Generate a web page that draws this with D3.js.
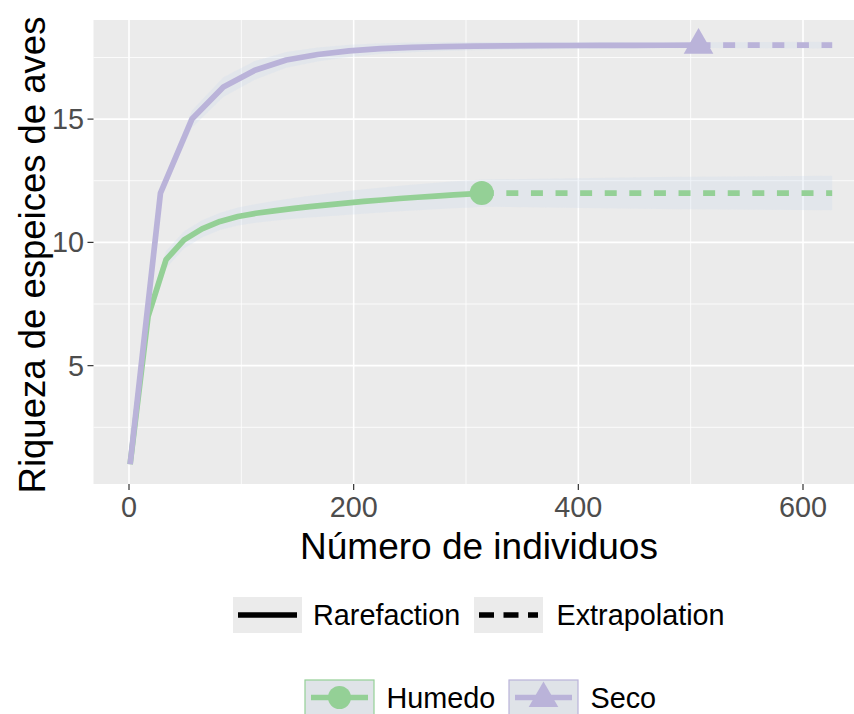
<!DOCTYPE html>
<html>
<head>
    <meta charset="utf-8">
    <style type="text/css">
        body { margin: 0; background: #fff; }
        text { font-family: "Liberation Sans", Arial, Helvetica, sans-serif; }
    </style>
</head>
<body>
    <div id="canvas"></div>

    <script src="https://cdn.jsdelivr.net/npm/d3@7"></script>
    <script type="text/javascript">
        // Humedo: rarefaction knots and values
        var humedoN = [1, 17, 33, 49, 65, 81, 97, 113, 129, 145, 161, 177, 193, 209, 225, 241, 257, 273, 289, 305, 314];
        var humedoS = [1, 7.0, 9.3, 10.1, 10.55, 10.85, 11.05, 11.18, 11.28, 11.37, 11.45, 11.52, 11.59, 11.66, 11.72, 11.78, 11.83, 11.88, 11.93, 11.97, 12];
        var humedoLo = [1, 6.7, 8.95, 9.75, 10.2, 10.5, 10.68, 10.8, 10.88, 10.95, 11.01, 11.06, 11.11, 11.16, 11.21, 11.26, 11.3, 11.34, 11.38, 11.42, 11.45];
        var humedoHi = [1, 7.3, 9.65, 10.45, 10.9, 11.2, 11.42, 11.56, 11.68, 11.79, 11.89, 11.98, 12.07, 12.16, 12.23, 12.3, 12.36, 12.42, 12.48, 12.52, 12.55];
        // Humedo: extrapolation
        var humedoExtN = [314, 470, 626];
        var humedoExtS = [12, 12, 12];
        var humedoExtLo = [11.45, 11.35, 11.3];
        var humedoExtHi = [12.55, 12.65, 12.7];

        // Seco: rarefaction knots and values
        var secoN = [1, 28, 56, 84, 112, 140, 168, 196, 224, 252, 280, 308, 336, 364, 392, 420, 448, 476, 507];
        var secoS = [1, 12.0, 15.0, 16.3, 16.98, 17.4, 17.62, 17.77, 17.86, 17.91, 17.94, 17.96, 17.97, 17.98, 17.985, 17.99, 17.99, 17.995, 18];
        var secoLo = [1, 11.8, 14.65, 15.9, 16.6, 17.08, 17.34, 17.52, 17.64, 17.71, 17.76, 17.79, 17.81, 17.83, 17.84, 17.85, 17.86, 17.87, 17.88];
        var secoHi = [1, 12.2, 15.35, 16.7, 17.36, 17.72, 17.9, 18.02, 18.08, 18.11, 18.12, 18.13, 18.13, 18.13, 18.13, 18.13, 18.12, 18.12, 18.12];
        // Seco: extrapolation
        var secoExtN = [507, 626];
        var secoExtS = [18, 18];
        var secoExtLo = [17.88, 17.86];
        var secoExtHi = [18.12, 18.14];

        var xTicks = [0, 200, 400, 600];
        var xMinor = [100, 300, 500];
        var yTicks = [5, 10, 15];
        var yMinor = [2.5, 7.5, 12.5, 17.5];

        var sites = ['Humedo', 'Seco'];
        var siteColors = ['#94d096', '#bab3d9'];
        var methods = ['Rarefaction', 'Extrapolation'];

        var width = 854, height = 714;
        var panel = { left: 93.5, top: 20, right: 867, bottom: 484 };

        var svg = d3.select('#canvas').append('svg')
            .attr('width', width)
            .attr('height', height);

        var x = d3.scaleLinear().domain([0, 600]).range([129, 803]);
        var y = d3.scaleLinear().domain([0.2, 19.02]).range([panel.bottom, panel.top]);

        // panel background
        svg.append('rect')
            .attr('x', panel.left).attr('y', panel.top)
            .attr('width', panel.right - panel.left)
            .attr('height', panel.bottom - panel.top)
            .attr('fill', '#ebebeb');

        var grid = svg.append('g');
        grid.selectAll('.xminor').data(xMinor).enter().append('line')
            .attr('x1', x).attr('x2', x)
            .attr('y1', panel.top).attr('y2', panel.bottom)
            .attr('stroke', '#fff').attr('stroke-width', 0.8);
        grid.selectAll('.yminor').data(yMinor).enter().append('line')
            .attr('y1', y).attr('y2', y)
            .attr('x1', panel.left).attr('x2', panel.right)
            .attr('stroke', '#fff').attr('stroke-width', 0.8);
        grid.selectAll('.xmajor').data(xTicks).enter().append('line')
            .attr('x1', x).attr('x2', x)
            .attr('y1', panel.top).attr('y2', panel.bottom)
            .attr('stroke', '#fff').attr('stroke-width', 1.6);
        grid.selectAll('.ymajor').data(yTicks).enter().append('line')
            .attr('y1', y).attr('y2', y)
            .attr('x1', panel.left).attr('x2', panel.right)
            .attr('stroke', '#fff').attr('stroke-width', 1.6);

        var zip = function (n, s, lo, hi) {
            return n.map(function (d, i) {
                return { n: d, s: s[i], lo: lo[i], hi: hi[i] };
            });
        };

        var series = [
            { rare: zip(humedoN, humedoS, humedoLo, humedoHi), ext: zip(humedoExtN, humedoExtS, humedoExtLo, humedoExtHi) },
            { rare: zip(secoN, secoS, secoLo, secoHi), ext: zip(secoExtN, secoExtS, secoExtLo, secoExtHi) }
        ];

        var area = d3.area()
            .x(function (d) { return x(d.n); })
            .y0(function (d) { return y(d.lo); })
            .y1(function (d) { return y(d.hi); });
        var line = d3.line()
            .x(function (d) { return x(d.n); })
            .y(function (d) { return y(d.s); });

        // confidence ribbons
        series.forEach(function (sr) {
            svg.append('path').datum(sr.rare.concat(sr.ext.slice(1)))
                .attr('d', area)
                .attr('fill', '#ccdcec').attr('fill-opacity', 0.28);
        });

        // curves
        series.forEach(function (sr, i) {
            svg.append('path').datum(sr.rare)
                .attr('d', line)
                .attr('fill', 'none')
                .attr('stroke', siteColors[i]).attr('stroke-width', 5.7)
                .attr('stroke-linejoin', 'round');
            svg.append('path').datum(sr.ext)
                .attr('d', line)
                .attr('fill', 'none')
                .attr('stroke', siteColors[i]).attr('stroke-width', 5.7)
                .attr('stroke-dasharray', '12 12.6');
        });

        // observed points
        var obsH = series[0].rare[series[0].rare.length - 1];
        var obsS = series[1].rare[series[1].rare.length - 1];
        svg.append('circle')
            .attr('cx', x(obsH.n)).attr('cy', y(obsH.s)).attr('r', 12)
            .attr('fill', siteColors[0]);
        svg.append('path')
            .attr('d', d3.symbol().type(d3.symbolTriangle).size(380)())
            .attr('transform', 'translate(' + x(obsS.n) + ',' + y(obsS.s) + ')')
            .attr('fill', siteColors[1]);

        // axes
        var tickLabelColor = '#4d4d4d';
        svg.selectAll('.xtick').data(xTicks).enter().append('line')
            .attr('x1', x).attr('x2', x)
            .attr('y1', panel.bottom).attr('y2', panel.bottom + 6)
            .attr('stroke', '#333').attr('stroke-width', 1.2);
        svg.selectAll('.xlab').data(xTicks).enter().append('text')
            .attr('x', x).attr('y', 517)
            .attr('text-anchor', 'middle')
            .attr('font-size', 28.8)
            .attr('fill', tickLabelColor)
            .text(function (d) { return d; });
        svg.selectAll('.ytick').data(yTicks).enter().append('line')
            .attr('y1', y).attr('y2', y)
            .attr('x1', panel.left - 6).attr('x2', panel.left)
            .attr('stroke', '#333').attr('stroke-width', 1.2);
        svg.selectAll('.ylab').data(yTicks).enter().append('text')
            .attr('x', 84).attr('y', y).attr('dy', '0.35em')
            .attr('text-anchor', 'end')
            .attr('font-size', 28.8)
            .attr('fill', tickLabelColor)
            .text(function (d) { return d; });

        svg.append('text')
            .attr('x', 479).attr('y', 559)
            .attr('text-anchor', 'middle')
            .attr('font-size', 37)
            .attr('fill', '#000')
            .text('Número de individuos');
        svg.append('text')
            .attr('transform', 'translate(45,255) rotate(-90)')
            .attr('text-anchor', 'middle')
            .attr('font-size', 36.5)
            .attr('fill', '#000')
            .text('Riqueza de espeices de aves');

        // legend: linetype
        var ltKeys = [233, 474];
        var ltText = [313, 556.5];
        methods.forEach(function (m, i) {
            var g = svg.append('g');
            g.append('rect')
                .attr('x', ltKeys[i]).attr('y', 597)
                .attr('width', 69).attr('height', 36)
                .attr('fill', '#ebebeb');
            g.append('line')
                .attr('x1', ltKeys[i] + 5).attr('x2', ltKeys[i] + 64)
                .attr('y1', 615).attr('y2', 615)
                .attr('stroke', '#000').attr('stroke-width', 5.5)
                .attr('stroke-dasharray', i === 0 ? null : '15 9.5');
            g.append('text')
                .attr('x', ltText[i]).attr('y', 615).attr('dy', '0.35em')
                .attr('font-size', 28.8)
                .attr('fill', '#000')
                .text(m);
        });

        // legend: sites
        var siteKeys = [305, 509];
        var siteText = [386.5, 590.5];
        sites.forEach(function (s, i) {
            var g = svg.append('g');
            var kx = siteKeys[i], ky = 680, cx = kx + 34.5, cy = ky + 17.5;
            g.append('rect')
                .attr('x', kx).attr('y', ky)
                .attr('width', 69).attr('height', 35)
                .attr('fill', '#dfe3e8')
                .attr('stroke', siteColors[i]).attr('stroke-width', 1.2);
            g.append('line')
                .attr('x1', kx + 6).attr('x2', kx + 63)
                .attr('y1', cy).attr('y2', cy)
                .attr('stroke', siteColors[i]).attr('stroke-width', 5.7);
            if (i === 0) {
                g.append('circle').attr('cx', cx).attr('cy', cy).attr('r', 11.5)
                    .attr('fill', siteColors[i]);
            } else {
                g.append('path')
                    .attr('d', d3.symbol().type(d3.symbolTriangle).size(380)())
                    .attr('transform', 'translate(' + cx + ',' + (cy + 1) + ')')
                    .attr('fill', siteColors[i]);
            }
            g.append('text')
                .attr('x', siteText[i]).attr('y', cy).attr('dy', '0.35em')
                .attr('font-size', 28.8)
                .attr('fill', '#000')
                .text(s);
        });
    </script>
</body>
</html>
